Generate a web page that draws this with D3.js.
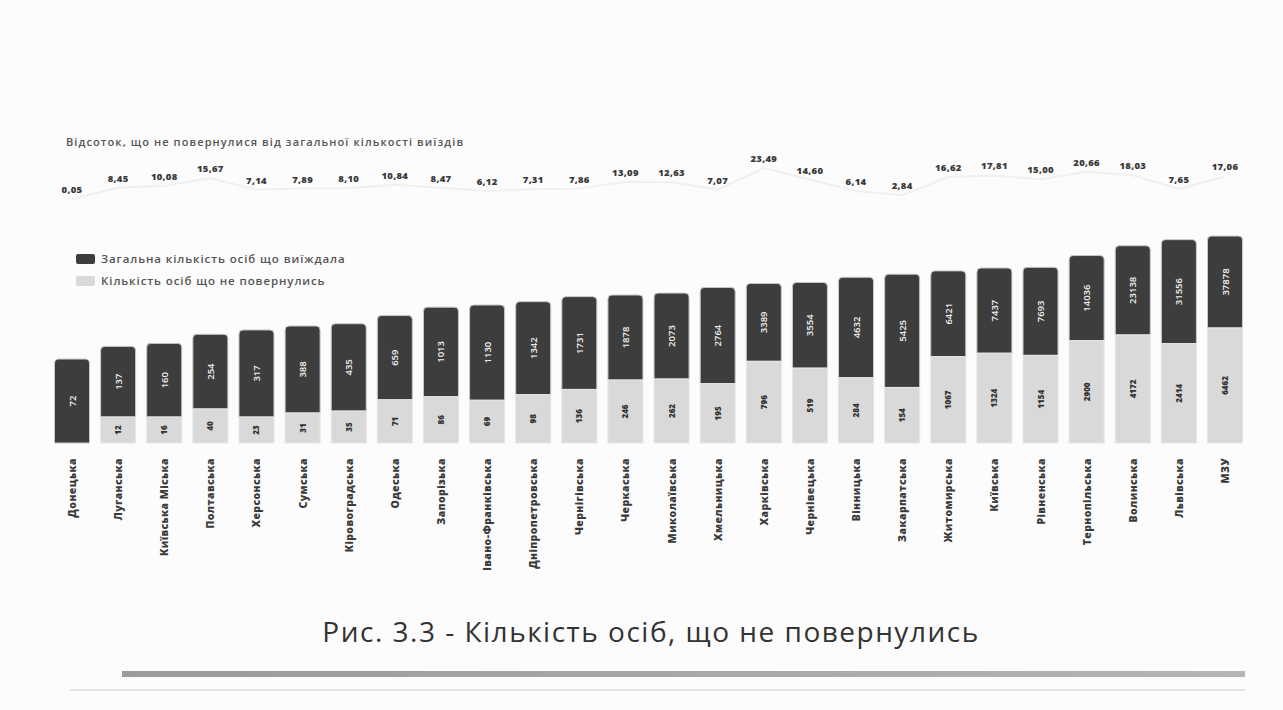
<!DOCTYPE html>
<html>
<head>
<meta charset="utf-8">
<script src="https://cdn.jsdelivr.net/npm/d3@7/dist/d3.min.js"></script>
<style>
  html, body { margin: 0; padding: 0; background: #fcfcfc; }
  svg { display: block; }
</style>
</head>
<body>
<svg id="chart" width="1283" height="710"></svg>
<script>
const categories = ["Донецька","Луганська","Київська Міська","Полтавська","Херсонська","Сумська","Кіровоградська","Одеська","Запорізька","Івано-Франківська","Дніпропетровська","Чернігівська","Черкаська","Миколаївська","Хмельницька","Харківська","Чернівецька","Вінницька","Закарпатська","Житомирська","Київська","Рівненська","Тернопільська","Волинська","Львівська","МЗУ"];
const totals = [72,137,160,254,317,388,435,659,1013,1130,1342,1731,1878,2073,2764,3389,3554,4632,5425,6421,7437,7693,14036,23138,31556,37878];
const notReturned = [0,12,16,40,23,31,35,71,86,69,98,136,246,262,195,796,519,284,154,1067,1324,1154,2900,4172,2414,6462];
const percents = [0.05,8.45,10.08,15.67,7.14,7.89,8.10,10.84,8.47,6.12,7.31,7.86,13.09,12.63,7.07,23.49,14.60,6.14,2.84,16.62,17.81,15.00,20.66,18.03,7.65,17.06];
const legendLabels = ["Загальна кількість осіб що виїждала","Кількість осіб що не повернулись"];
const lineTitle = "Відсоток, що не повернулися від загальної кількості виїздів";
const caption = "Рис. 3.3 - Кількість осіб, що не повернулись";

const svg = d3.select("#chart");
const font = "'Open Sans', Lato, sans-serif";
const darkColor = "#3d3d3d", lightColor = "#d9d9d9";
const baseline = 443;
const barW = 35;

const x = d3.scalePoint().domain(categories).range([72, 1225]);
const y = d3.scaleLog().domain([1, 100000]).range([baseline, baseline - 226]);
const yLight = d3.scaleLog().domain([10, 10000]).range([baseline - 12, baseline - 122]).clamp(true);
const yPct = d3.scaleLinear().domain([0, 25]).range([193, 160]);

const fmtPct = d3.format(".2f");

// title of line series
svg.append("text").attr("x", 66).attr("y", 146)
  .attr("font-family", font).attr("font-size", 11).attr("font-weight", 600)
  .attr("letter-spacing", 1.1)
  .attr("fill", "#555").text(lineTitle);

// faint line
const line = d3.line().x((d, i) => x(categories[i])).y(d => yPct(d) + 6);
svg.append("path").datum(percents).attr("d", line)
  .attr("fill", "none").attr("stroke", "#f0f0f0").attr("stroke-width", 2);

// percent labels
svg.append("g").selectAll("text").data(percents).join("text")
  .attr("x", (d, i) => x(categories[i]))
  .attr("y", d => yPct(d))
  .attr("text-anchor", "middle")
  .attr("font-family", font).attr("font-size", 9.5).attr("font-weight", 800)
  .attr("letter-spacing", 0.3)
  .attr("fill", "#3a3a3a")
  .text(d => fmtPct(d).replace(".", ","));

// legend
const legend = svg.append("g");
legendLabels.forEach((lbl, i) => {
  const ly = 260 + i * 22;
  legend.append("rect").attr("x", 76).attr("y", ly - 6).attr("width", 19).attr("height", 10)
    .attr("rx", 2).attr("fill", i === 0 ? darkColor : lightColor);
  legend.append("text").attr("x", 101).attr("y", ly + 3)
    .attr("font-family", font).attr("font-size", 11.5).attr("font-weight", 600)
    .attr("letter-spacing", 0.9)
    .attr("fill", "#555").text(lbl);
});

// bars
const bars = svg.append("g").selectAll("g").data(categories).join("g");
function lightTop(i) { return notReturned[i] > 0 ? Math.min(yLight(Math.max(notReturned[i], 10)), baseline - 26) : baseline; }

bars.append("path")
  .attr("d", (c, i) => {
    const x0 = x(c) - barW / 2, x1 = x(c) + barW / 2;
    const top = y(totals[i]);
    const bot = lightTop(i);
    const r = 4;
    return `M${x0},${bot} L${x0},${top + r} Q${x0},${top} ${x0 + r},${top} L${x1 - r},${top} Q${x1},${top} ${x1},${top + r} L${x1},${bot} Z`;
  })
  .attr("fill", darkColor).attr("stroke", "#c8c8c8").attr("stroke-width", 1);

bars.filter((c, i) => notReturned[i] > 0).append("rect")
  .attr("x", c => x(c) - barW / 2)
  .attr("y", c => lightTop(categories.indexOf(c)))
  .attr("width", barW)
  .attr("height", c => baseline - lightTop(categories.indexOf(c)))
  .attr("fill", lightColor).attr("stroke", "#e6e6e6").attr("stroke-width", 1);

// dark labels
bars.append("text")
  .attr("transform", (c, i) => {
    const mid = (y(totals[i]) + lightTop(i)) / 2;
    return `translate(${x(c) + 3.5},${mid}) rotate(-90)`;
  })
  .attr("text-anchor", "middle")
  .attr("font-family", font).attr("font-size", 9.5).attr("font-weight", 600)
  .attr("fill", "#f2f2f2")
  .text((c, i) => totals[i]);

// light labels
bars.filter((c, i) => notReturned[i] > 0).append("text")
  .attr("transform", c => {
    const i = categories.indexOf(c);
    const mid = (lightTop(i) + baseline) / 2;
    return `translate(${x(c) + 3},${mid}) rotate(-90)`;
  })
  .attr("text-anchor", "middle")
  .attr("font-family", font).attr("font-size", 8).attr("font-weight", 800)
  .attr("fill", "#333")
  .text(c => notReturned[categories.indexOf(c)]);

// category labels
svg.append("g").selectAll("text").data(categories).join("text")
  .attr("transform", c => `translate(${x(c) + 4},${458}) rotate(-90)`)
  .attr("text-anchor", "end")
  .attr("font-family", font).attr("font-size", 10.5).attr("font-weight", 800)
  .attr("letter-spacing", 0.4)
  .attr("fill", "#3a3a3a")
  .text(c => c);

// caption
svg.append("text").attr("x", 651).attr("y", 642).attr("text-anchor", "middle")
  .attr("font-family", font).attr("font-size", 28).attr("font-weight", 500)
  .attr("letter-spacing", 1.5)
  .attr("fill", "#333").text(caption);

// decorative bottom rules
const grad = svg.append("defs").append("linearGradient").attr("id", "g1");
grad.append("stop").attr("offset", "0%").attr("stop-color", "#9a9a9a");
grad.append("stop").attr("offset", "100%").attr("stop-color", "#b5b5b5");
svg.append("rect").attr("x", 122).attr("y", 671).attr("width", 1123).attr("height", 6).attr("fill", "url(#g1)");
svg.append("rect").attr("x", 70).attr("y", 689).attr("width", 1175).attr("height", 2).attr("fill", "#e4e4e4");
</script>
</body>
</html>
